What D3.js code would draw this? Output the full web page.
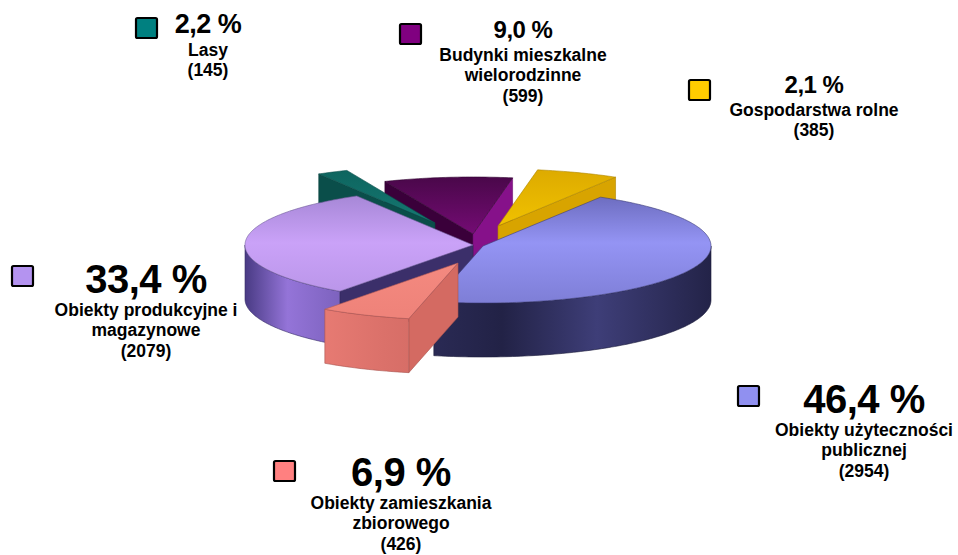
<!DOCTYPE html>
<html>
<head>
<meta charset="utf-8">
<script src="https://cdn.jsdelivr.net/npm/d3@7"></script>
<style>
  html, body { margin: 0; padding: 0; background: #fff; }
  svg { display: block; }
  text { font-family: "Liberation Sans", Arial, sans-serif; font-weight: bold; fill: #000; }
</style>
</head>
<body>
<div id="chart"></div>
<script>
// Data (slice order clockwise from the yellow slice)
const categories = ["Gospodarstwa rolne", "Obiekty użyteczności publicznej", "Obiekty zamieszkania zbiorowego",
  "Obiekty produkcyjne i magazynowe", "Lasy", "Budynki mieszkalne wielorodzinne"];
const counts = [385, 2954, 426, 2079, 145, 599];
const percentLabels = ["2,1 %", "46,4 %", "6,9 %", "33,4 %", "2,2 %", "9,0 %"];
const nameLines = [
  ["Gospodarstwa rolne"],
  ["Obiekty użyteczności", "publicznej"],
  ["Obiekty zamieszkania", "zbiorowego"],
  ["Obiekty produkcyjne i", "magazynowe"],
  ["Lasy"],
  ["Budynki mieszkalne", "wielorodzinne"]
];

const width = 958;
const height = 555;

// 3D pie geometry
const cx = 478, cy = 245, rx = 228, tilt = 0.25, depth = 54;
const startDeg = 10;
// how far each slice is pulled out of the pie (screen px)
const explodeOffsets = [[20, -19], [5, 1], [-20, 18], [-5, 0], [-43, -22], [-5, -11]];

// colours: top [back, front], wall [dark, light], faces [start, end]
const styles = [
  { square: "#ffcc00", top: ["#d9a600", "#f6c800"], wall: ["#b08600", "#d4a600"], face: ["#c09000", "#d8a400"] },
  { square: "#9090f0", top: ["#4c4c94", "#9494f4"], wall: ["#222246", "#3e3e78"], face: ["#2a2a52", "#2a2a52"] },
  { square: "#ff8080", top: ["#e2726a", "#f68c82"], wall: ["#c8625c", "#ee8078"], face: ["#d46a62", "#d46a62"] },
  { square: "#b493f0", top: ["#8a72bc", "#caa2f8"], wall: ["#40347a", "#9474d8"], face: ["#3b2f6a", "#3b2f6a"] },
  { square: "#008080", top: ["#0c605a", "#18807a"], wall: ["#084a46", "#0e625c"], face: ["#0a4e4a", "#0a4e4a"] },
  { square: "#800080", top: ["#3c063c", "#7a0c7a"], wall: ["#380038", "#6a006a"], face: ["#3a003a", "#86118a"] }
];

// label layout: legend square, centre x, baseline of percentage, font size
const labelLayout = [
  { sq: [689, 80], x: 814, y: 93, size: 24 },
  { sq: [738, 386], x: 864, y: 413, size: 40 },
  { sq: [274, 461], x: 401, y: 486, size: 40 },
  { sq: [12, 266], x: 146, y: 293, size: 40 },
  { sq: [136, 18], x: 208, y: 33, size: 27 },
  { sq: [400, 24], x: 523, y: 38, size: 24 }
];

const svg = d3.select('#chart')
  .append('svg')
  .attr('width', width)
  .attr('height', height)
  .style('background-color', '#fff');

const defs = svg.append('defs');

const pie = d3.pie()
  .sort(null)
  .value(d => d)
  .startAngle(startDeg * Math.PI / 180)
  .endAngle(startDeg * Math.PI / 180 + 2 * Math.PI);

const arcs = pie(counts);

// gradients for each slice
styles.forEach((s, i) => {
  const tg = defs.append('linearGradient')
    .attr('id', 'top' + i)
    .attr('gradientUnits', 'userSpaceOnUse')
    .attr('x1', 0).attr('x2', 0)
    .attr('y1', cy - rx * tilt - 30).attr('y2', cy + rx * tilt + 10);
  tg.append('stop').attr('offset', 0).attr('stop-color', s.top[0]);
  tg.append('stop').attr('offset', 0.55).attr('stop-color', s.top[1]);
  tg.append('stop').attr('offset', 1).attr('stop-color', d3.interpolateRgb(s.top[1], s.top[0])(0.35));

  const wg = defs.append('linearGradient')
    .attr('id', 'wall' + i)
    .attr('gradientUnits', 'userSpaceOnUse')
    .attr('y1', 0).attr('y2', 0)
    .attr('x1', cx - rx - 10).attr('x2', cx + rx + 10);
  [[0, s.wall[0]], [0.1, s.wall[1]], [0.3, d3.interpolateRgb(s.wall[1], s.wall[0])(0.5)],
   [0.55, s.wall[0]], [0.75, s.wall[1]], [1, s.wall[0]]].forEach(([o, c]) => {
    wg.append('stop').attr('offset', o).attr('stop-color', c);
  });
});

// point on the tilted pie for angle a, radius r, slice offset, vertical drop z
function pt(a, r, off, z) {
  return [cx + off[0] + r * Math.sin(a), cy + off[1] - r * tilt * Math.cos(a) + z];
}

function arcPoints(a0, a1, off, z) {
  const n = Math.max(2, Math.ceil(Math.abs(a1 - a0) / (Math.PI / 180)));
  return d3.range(n + 1).map(j => pt(a0 + (a1 - a0) * j / n, rx, off, z));
}

const line = d3.line().curve(d3.curveLinear);

// sort slices from back to front
const order = arcs.map((d, i) => i).sort((a, b) => {
  const ma = (arcs[a].startAngle + arcs[a].endAngle) / 2;
  const mb = (arcs[b].startAngle + arcs[b].endAngle) / 2;
  return -Math.cos(ma) - (-Math.cos(mb));
});

const pieG = svg.append('g');

order.forEach(i => {
  const d = arcs[i];
  const s = styles[i];
  const a0 = d.startAngle, a1 = d.endAngle;
  const off = explodeOffsets[i];
  const g = pieG.append('g');

  // radial cut faces
  [[a0, Math.sin(a0) < 0, s.face[0]], [a1, Math.sin(a1) > 0, s.face[1]]].forEach(([a, visible, col]) => {
    if (!visible) return;
    const pts = [pt(a, 0, off, 0), pt(a, rx, off, 0), pt(a, rx, off, depth), pt(a, 0, off, depth)];
    g.append('path')
      .attr('d', line(pts) + 'Z')
      .attr('fill', col)
      .attr('stroke', d3.color(col).darker(0.6))
      .attr('stroke-width', 0.6);
  });

  // outer wall, front half only
  [-2 * Math.PI, 0, 2 * Math.PI].forEach(shift => {
    const w0 = Math.max(a0 + shift, Math.PI / 2);
    const w1 = Math.min(a1 + shift, 3 * Math.PI / 2);
    if (w1 <= w0) return;
    const topPts = arcPoints(w0, w1, off, 0);
    const botPts = arcPoints(w1, w0, off, depth);
    g.append('path')
      .attr('d', line(topPts.concat(botPts)) + 'Z')
      .attr('fill', `url(#wall${i})`)
      .attr('stroke', d3.color(s.wall[0]).darker(0.5))
      .attr('stroke-width', 0.6);
  });

  // top face
  const topFace = [pt(a0, 0, off, 0)].concat(arcPoints(a0, a1, off, 0));
  g.append('path')
    .attr('d', line(topFace) + 'Z')
    .attr('fill', `url(#top${i})`)
    .attr('stroke', d3.color(s.top[0]).darker(0.6))
    .attr('stroke-width', 0.6);
});

// labels with legend squares
const labels = svg.append('g');
categories.forEach((c, i) => {
  const L = labelLayout[i];
  labels.append('rect')
    .attr('x', L.sq[0]).attr('y', L.sq[1])
    .attr('width', 21).attr('height', 20)
    .attr('rx', 1.5)
    .attr('fill', styles[i].square)
    .attr('stroke', '#000')
    .attr('stroke-width', 2.2);

  labels.append('text')
    .attr('x', L.x).attr('y', L.y)
    .attr('text-anchor', 'middle')
    .style('font-size', L.size + 'px')
    .style('letter-spacing', '-0.5px')
    .text(percentLabels[i]);

  const lines = nameLines[i].concat(['(' + counts[i] + ')']);
  lines.forEach((t, j) => {
    labels.append('text')
      .attr('x', L.x).attr('y', L.y + 23 + j * 20.3)
      .attr('text-anchor', 'middle')
      .style('font-size', '17.5px')
      .text(t);
  });
});
</script>
</body>
</html>
